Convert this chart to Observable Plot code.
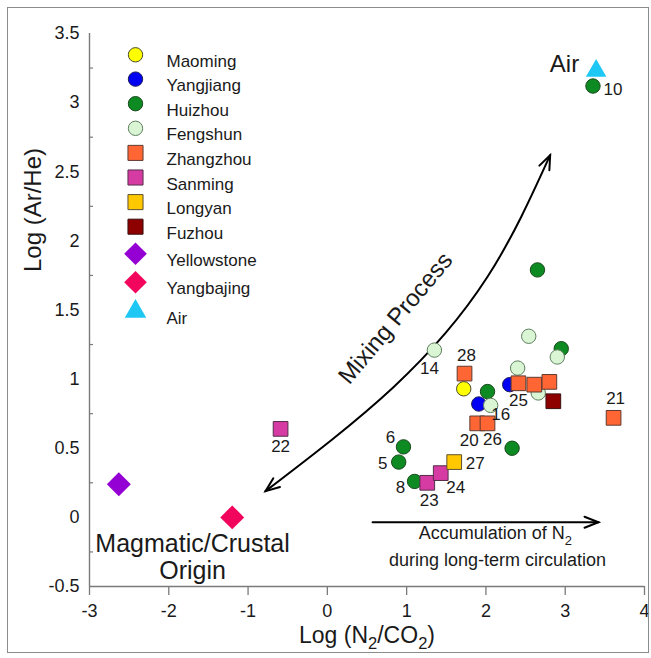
<!DOCTYPE html>
<html>
<head>
<meta charset="utf-8">
<script src="https://cdn.jsdelivr.net/npm/d3@7"></script>
<script src="https://cdn.jsdelivr.net/npm/@observablehq/plot@0.6"></script>
<style>
html,body{margin:0;padding:0;background:#fff;}
#wrap{position:relative;width:651px;height:658px;overflow:hidden;background:#fff;}
#wrap svg{position:absolute;left:0;top:0;}
#frame{position:absolute;left:7px;top:7px;width:642px;height:646px;border:1px solid #8c8c8c;box-sizing:border-box;pointer-events:none;}
</style>
</head>
<body>
<div id="wrap"><div id="frame"></div></div>
<script>
// ---------- data ----------
const xTicks = [-3, -2, -1, 0, 1, 2, 3, 4];
const yTicks = [-0.5, 0, 0.5, 1, 1.5, 2, 2.5, 3, 3.5];
const yMinorTicks = [-0.25, 0.25, 0.75, 1.25, 1.75, 2.25, 2.75, 3.25];

const siteNames = ["Maoming", "Yangjiang", "Huizhou", "Fengshun", "Zhangzhou", "Sanming",
                   "Longyan", "Fuzhou", "Yellowstone", "Yangbajing", "Air"];

// [Log(N2/CO2), Log(Ar/He), sample number]
const maoming = [[1.72, 0.93, ""]];
const yangjiang = [[2.30, 0.96, ""], [1.91, 0.82, ""]];
const huizhou = [[3.35, 3.12, "10"], [2.65, 1.79, ""], [2.95, 1.22, ""], [2.02, 0.91, ""],
                 [2.33, 0.50, ""], [0.96, 0.51, "6"], [0.90, 0.40, "5"], [1.10, 0.26, "8"]];
const fengshun = [[1.35, 1.21, "14"], [2.54, 1.31, ""], [2.90, 1.16, ""], [2.40, 1.08, ""],
                  [2.06, 0.81, "16"], [2.66, 0.90, ""]];
const zhangzhou = [[1.73, 1.04, "28"], [2.41, 0.97, "25"], [2.61, 0.96, ""], [2.80, 0.98, ""],
                   [1.89, 0.68, "20"], [2.02, 0.68, "26"], [3.61, 0.72, "21"]];
const sanming = [[-0.59, 0.64, "22"], [1.26, 0.25, "23"], [1.43, 0.32, "24"]];
const longyan = [[1.60, 0.40, "27"]];
const fuzhou = [[2.85, 0.84, ""]];
const yellowstone = [[-2.63, 0.24, ""]];
const yangbajing = [[-1.20, 0.00, ""]];
const air = [[3.39, 3.23, ""]];

// annotation curve / arrow (data space)
const mixingCurve = [[-0.78, 0.19], [0.83, 0.94], [2.02, 1.74], [2.81, 2.62]];
const accumulationArrow = [[0.57, -0.035], [3.42, -0.035]];

const annotationText = ["Mixing Process", "Magmatic/Crustal", "Origin",
                        "Accumulation of N₂", "during long-term circulation"];
const annotationX = [0.86, -1.70, -1.70, 2.12, 2.145];
const annotationY = [1.44, -0.19, -0.39, -0.117, -0.312];

const xTitle = "Log (N₂/CO₂)";
const yTitle = "Log (Ar/He)";

// ---------- styles / layout ----------
const siteData = [maoming, yangjiang, huizhou, fengshun, zhangzhou, sanming, longyan, fuzhou, yellowstone, yangbajing, air];
const siteStyle = {
  Maoming:    {symbol: "circle",   fill: "#FFFF00", stroke: "#4a4a30", r: 7.2},
  Yangjiang:  {symbol: "circle",   fill: "#0000F2", stroke: "#1c1c5a", r: 7.2},
  Huizhou:    {symbol: "circle",   fill: "#0E8A22", stroke: "#1a4a1e", r: 7.2},
  Fengshun:   {symbol: "circle",   fill: "#D9F5D4", stroke: "#5f7f5f", r: 7.2},
  Zhangzhou:  {symbol: "square",   fill: "#FF6633", stroke: "#5e3b30", r: 8.3},
  Sanming:    {symbol: "square",   fill: "#D63AA3", stroke: "#55304a", r: 8.3},
  Longyan:    {symbol: "square",   fill: "#FFC800", stroke: "#5e5030", r: 8.3},
  Fuzhou:     {symbol: "square",   fill: "#8E0000", stroke: "#3a1010", r: 8.3},
  Yellowstone:{symbol: "diamond2", fill: "#9400D3", stroke: "none",    r: 10.8},
  Yangbajing: {symbol: "diamond2", fill: "#F2055C", stroke: "none",    r: 10.8},
  Air:        {symbol: "triangle", fill: "#1FC8F4", stroke: "none",    r: 7.6}
};
const labelOffset = {
  "10": [20, 4], "28": [2, -18], "14": [-5, 18], "25": [0, 17], "16": [10, 9],
  "20": [-8, 17], "26": [5, 16], "21": [2, -19], "22": [0, 18], "6": [-13, -9],
  "5": [-16, 1], "8": [-14, 6], "23": [2, 18], "24": [15, 14], "27": [21, 1]
};
const legendRowY = [54.3, 78.6, 103.2, 127.8, 152.4, 177, 201.6, 226.2, 253.3, 281.7, 311];
const annotationStyle = [
  {fontSize: 24, rotate: -50},
  {fontSize: 25, rotate: 0},
  {fontSize: 25, rotate: 0},
  {fontSize: 18, rotate: 0},
  {fontSize: 18, rotate: 0}
];

const M = {left: 89, right: 7, top: 33, bottom: 72};
const W = 651, H = 658;
const axisColor = "#7a7a7a";
const textColor = "#1a1a1a";
const X = d => d[0], Y = d => d[1];

const marks = [];
// axis lines
marks.push(Plot.ruleX([xTicks[0]], {x: d => d, stroke: axisColor, strokeWidth: 1.4}));
marks.push(Plot.ruleY([yTicks[0]], {y: d => d, stroke: axisColor, strokeWidth: 1.4}));
// x axis
marks.push(Plot.axisX({ticks: xTicks, tickSize: 9, tickPadding: 9, tickFormat: d => String(d),
  label: null, fontSize: 18, stroke: axisColor, fill: textColor, strokeWidth: 1.3}));
// y axis labels (no ticks) + inward minor ticks
marks.push(Plot.axisY({ticks: yTicks, tickSize: 0, tickPadding: 10, tickFormat: d => String(d),
  label: null, fontSize: 18, fill: textColor}));
marks.push(Plot.tickY(yMinorTicks, {y: d => d, insetRight: W - M.left - M.right - 4, stroke: axisColor, strokeWidth: 1.2}));

// axis titles
marks.push(Plot.text([yTitle], {text: d => d, frameAnchor: "left", dx: -56, dy: -38, rotate: -90, fontSize: 24, fill: textColor}));
marks.push(Plot.text([xTitle], {text: d => d, frameAnchor: "bottom", dy: 56, fontSize: 23, fill: textColor}));

// mixing curve and accumulation arrow
marks.push(Plot.line(mixingCurve, {x: X, y: Y, curve: "natural", stroke: "#000", strokeWidth: 2,
  markerStart: "arrow", markerEnd: "arrow"}));
marks.push(Plot.line(accumulationArrow, {x: X, y: Y, stroke: "#000", strokeWidth: 2, markerEnd: "arrow"}));

// annotation texts
annotationText.forEach((t, i) => {
  marks.push(Plot.text([i], {x: j => annotationX[j], y: j => annotationY[j], text: j => annotationText[j],
    fontSize: annotationStyle[i].fontSize, rotate: annotationStyle[i].rotate, fill: textColor}));
});

// points
siteNames.forEach((name, k) => {
  const st = siteStyle[name];
  marks.push(Plot.dot(siteData[k], {x: X, y: Y, symbol: st.symbol, r: st.r, fill: st.fill,
    stroke: st.stroke, strokeWidth: 1}));
});
// sample numbers
siteNames.forEach((name, k) => {
  for (const row of siteData[k]) {
    if (!row[2]) continue;
    const off = labelOffset[row[2]] || [0, 16];
    marks.push(Plot.text([row], {x: X, y: Y, text: d => d[2], dx: off[0], dy: off[1], fontSize: 17, fill: textColor}));
  }
});
// Air label
marks.push(Plot.text(air, {x: X, y: Y, text: () => "Air", textAnchor: "end", dx: -17, dy: -7, fontSize: 24, fill: textColor}));

// legend (inside plot, top-left)
siteNames.forEach((name, i) => {
  const st = siteStyle[name];
  const dy = legendRowY[i] - M.top;
  const rr = st.symbol === "diamond2" ? 10.2 : st.symbol === "triangle" ? 8 : st.symbol === "square" ? 8.5 : 7.2;
  marks.push(Plot.dot([name], {frameAnchor: "top-left", dx: 46, dy, symbol: st.symbol, r: rr,
    fill: st.fill, stroke: st.stroke, strokeWidth: 1}));
  marks.push(Plot.text([name], {frameAnchor: "top-left", dx: 77, dy, text: d => d, textAnchor: "start",
    fontSize: 17, fill: textColor}));
});

const svg = Plot.plot({
  width: W, height: H,
  marginLeft: M.left, marginRight: M.right, marginTop: M.top, marginBottom: M.bottom,
  x: {domain: [xTicks[0], xTicks[xTicks.length - 1]]},
  y: {domain: [yTicks[0], yTicks[yTicks.length - 1]]},
  style: {fontFamily: "'Liberation Sans', Arial, sans-serif", fontSize: "17px", background: "transparent", overflow: "visible", color: textColor},
  marks
});
document.getElementById("wrap").insertBefore(svg, document.getElementById("frame"));

// subscripts for "₂"
d3.select(svg).selectAll("text").each(function() {
  if (this.querySelector("tspan")) return;
  const s = this.textContent;
  if (!s.includes("₂")) return;
  const fs = parseFloat(getComputedStyle(this).fontSize) || 18;
  const shift = fs * 0.3;
  const parts = s.split("₂");
  this.textContent = "";
  const t = d3.select(this);
  parts.forEach((p, i) => {
    if (p) {
      const ts = t.append("tspan").text(p);
      if (i > 0) ts.attr("dy", -shift);
    }
    if (i < parts.length - 1) t.append("tspan").text("2").attr("font-size", fs * 0.72).attr("dy", shift);
  });
});

// larger, narrower open arrowheads; start marker reversed
d3.select(svg).selectAll("marker").each(function() {
  const m = d3.select(this);
  m.attr("viewBox", "-16 -8 32 16").attr("markerWidth", 32).attr("markerHeight", 16)
   .attr("markerUnits", "userSpaceOnUse").attr("stroke-width", 2).attr("stroke-linejoin", "miter")
   .attr("orient", "auto-start-reverse");
  m.selectAll("path").attr("d", "M-14,-5.5L0,0L-14,5.5");
});
</script>
</body>
</html>
